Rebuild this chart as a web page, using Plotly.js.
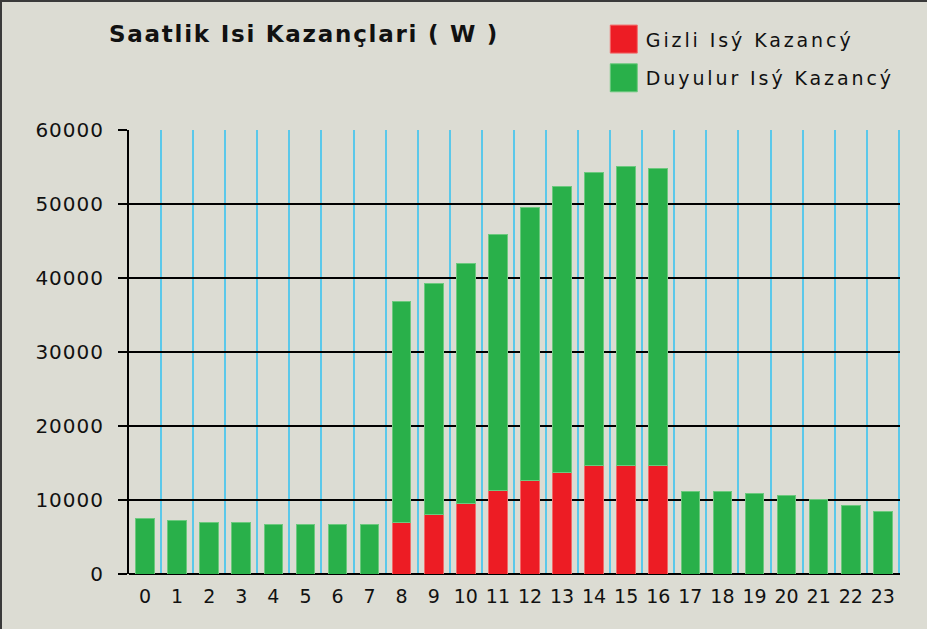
<!DOCTYPE html>
<html>
<head>
<meta charset="utf-8">
<script src="https://cdn.plot.ly/plotly-3.0.1.min.js"></script>
<style>
html, body { margin: 0; padding: 0; background: #dcdcd3; }
#chart { width: 927px; height: 629px; box-sizing: border-box; border-top: 2px solid #3a3a3a; border-left: 2px solid #3a3a3a; }
#chart .legendtext { letter-spacing: 2.9px; }
#chart .gtitle { letter-spacing: 1.75px; }
#chart .ytick text { letter-spacing: 1px; }
</style>
</head>
<body>
<div id="chart"></div>
<script>
// Hours of the day
const hours = [0,1,2,3,4,5,6,7,8,9,10,11,12,13,14,15,16,17,18,19,20,21,22,23];
// Latent heat gain (W) - red
const gizli = [0,0,0,0,0,0,0,0,6950,8100,9500,11250,12600,13750,14600,14600,14600,0,0,0,0,0,0,0];
// Sensible heat gain (W) - green
const duyulur = [7500,7250,7000,7000,6700,6700,6700,6700,29850,31150,32500,34650,36900,38550,39700,40500,40250,11200,11200,10900,10650,10050,9250,8400];
const yTicks = [0,10000,20000,30000,40000,50000,60000];
const titleText = 'Saatlik Isi Kazançlari ( W )';
const nameGizli = 'Gizli Isý Kazancý';
const nameDuyulur = 'Duyulur Isý Kazancý';

const boundaries = hours.map(h => h + 0.5);

const traces = [
  { type: 'bar', x: hours, y: gizli, name: nameGizli, legendgroup: 'a',
    marker: { color: '#ed1c24', line: { color: '#f26a6a', width: 1 } }, hoverinfo: 'x+y' },
  { type: 'bar', x: hours, y: duyulur, name: nameDuyulur, legendgroup: 'b',
    marker: { color: '#29b04a', line: { color: '#6cc97e', width: 1 } }, hoverinfo: 'x+y' }
];

const layout = {
  width: 927, height: 629,
  paper_bgcolor: '#dcdcd3', plot_bgcolor: '#dcdcd3',
  margin: { l: 127, r: 29, t: 128, b: 57, autoexpand: false },
  barmode: 'stack', bargap: 0.42,
  font: { family: 'DejaVu Sans, Verdana, sans-serif', color: '#111', size: 18 },
  title: { text: '<b>' + titleText + '</b>', xref: 'container', yref: 'container',
           x: 0.1154, xanchor: 'left', y: 0.949, yanchor: 'middle',
           font: { size: 23, color: '#111', family: 'DejaVu Sans, Verdana, sans-serif' } },
  showlegend: true,
  legend: { traceorder: 'grouped', xref: 'container', yref: 'container', x: 0.647, xanchor: 'left',
            y: 0.971, yanchor: 'top', bgcolor: 'rgba(0,0,0,0)', tracegroupgap: 11, itemwidth: 34,
            font: { size: 19, color: '#111' }, itemclick: false },
  xaxis: {
    range: [-0.5, 23.535], tickmode: 'array', tickvals: hours, ticktext: hours.map(String),
    tickangle: 0, automargin: false,
    showgrid: false, zeroline: false, showline: false, ticks: '', fixedrange: true,
    ticklabelstandoff: 9,
    minor: { tickmode: 'array', tickvals: boundaries, showgrid: true, gridcolor: '#5bc8ea', gridwidth: 2, ticks: '' },
    tickfont: { size: 19 }
  },
  yaxis: {
    range: [0, 60000], tickmode: 'array', tickvals: yTicks, ticktext: yTicks.map(String),
    automargin: false,
    showgrid: true, gridcolor: '#000', gridwidth: 2,
    zeroline: true, zerolinecolor: '#000', zerolinewidth: 2,
    showline: true, linecolor: '#000', linewidth: 2,
    ticks: 'outside', ticklen: 9, tickwidth: 2, tickcolor: '#000',
    ticklabelstandoff: 10, fixedrange: true,
    tickfont: { size: 20 }
  }
};

Plotly.newPlot('chart', traces, layout, { displayModeBar: false, staticPlot: true }).then(gd => {
  gd.querySelectorAll('.legendpoints path').forEach(p => p.setAttribute('d', 'M13.5,14H-13.5V-14H13.5Z'));
  gd.querySelectorAll('.legend [clip-path]').forEach(el => el.removeAttribute('clip-path'));
});
</script>
</body>
</html>
